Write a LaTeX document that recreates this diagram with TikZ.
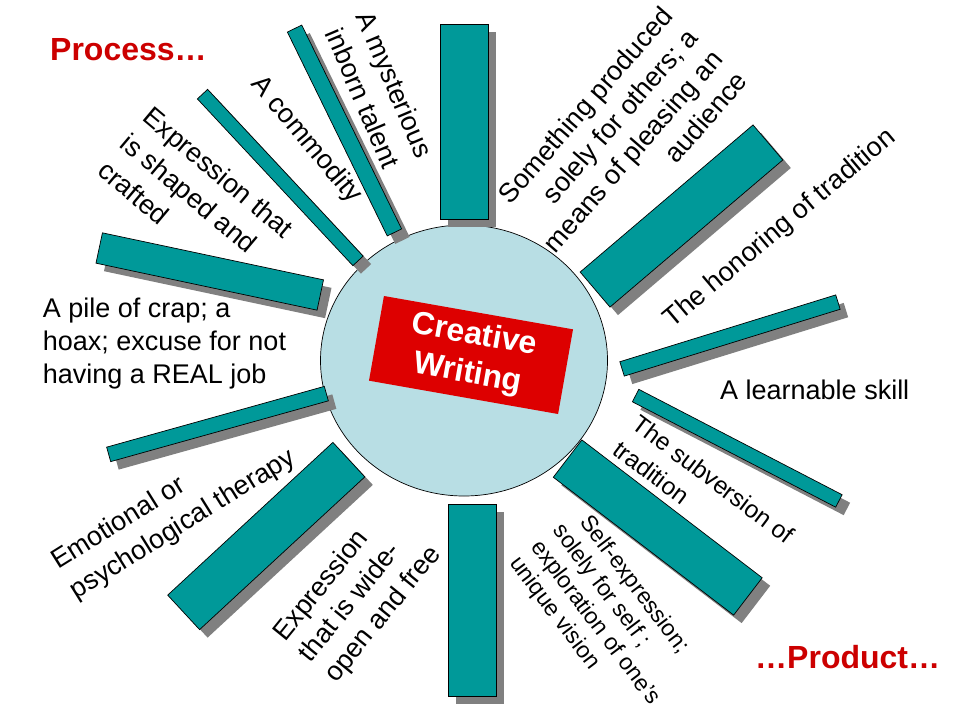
\documentclass[tikz,border=0pt]{standalone}
\usepackage{fontspec}
\setmainfont{Liberation Sans}
\usepackage{xcolor}
\usetikzlibrary{shapes.geometric}
\definecolor{barteal}{RGB}{0,153,153}
\definecolor{hubblue}{RGB}{184,222,228}
\definecolor{titlered}{RGB}{221,0,0}
\definecolor{headred}{RGB}{204,0,0}
\begin{document}
\begin{tikzpicture}[x=1pt,y=-1pt]
	\tikzstyle{bar}=[rectangle,draw=black,line width=0.7pt,fill=barteal,inner sep=0pt]
	\tikzstyle{shade}=[rectangle,fill=gray,inner sep=0pt]
	\tikzstyle{word}=[inner sep=0pt,font=\fontsize{27}{33}\selectfont]
	\tikzstyle{wide}=[inner sep=0pt,font=\fontsize{27}{35}\selectfont]
	\tikzstyle{head}=[inner sep=0pt,text=headred,font=\fontsize{32}{38}\selectfont\bfseries]
	\fill[white] (0,0) rectangle (960,720);
	\useasboundingbox (0,0) rectangle (960,720);
	\node[ellipse,draw=black,line width=0.7pt,fill=hubblue,minimum width=287pt,minimum height=271pt,inner sep=0pt](hub) at (464,360.5){};
	\foreach \n/\x/\y/\ang/\len/\thk in {1/464/121.5/90/195/48, 2/344.5/130.5/-63.9/227/16,
		3/280.25/177.5/-47/228/14, 4/209.75/271.5/-12/226/31, 5/217.5/424/15.6/226/15,
		6/266.25/536/42.75/225/47, 7/472/600/90/192/48, 8/657.75/527.5/-37.4/227/47,
		9/737.25/448.25/-27.4/229/14, 10/730/335.5/17.2/226/15, 11/681.5/216/40.4/227/46}
	{
		\node[shade,minimum width=\len pt,minimum height=\thk pt,rotate=\ang](b\n s) at (\x+8,\y+8){};
		\node[bar,minimum width=\len pt,minimum height=\thk pt,rotate=\ang](b\n) at (\x,\y){};
	}
	\node[fill=titlered,text=white,font=\fontsize{32}{39}\selectfont\bfseries,align=center,minimum width=192pt,minimum height=86pt,inner sep=0pt,rotate=-10](title) at (471,355){Creative\\Writing};
	\node[wide,rotate=-67,align=center](talent) at (379,91){A mysterious\\inborn talent};
	\node[word,rotate=-50](commodity) at (306,140){A commodity};
	\node[wide,rotate=-40,align=left](shaped) at (196,199){Expression that\\is shaped and\\crafted};
	\node[word,anchor=west,align=left](crap) at (42.7,344){A pile of crap; a\\hoax; excuse for not\\having a REAL job};
	\node[wide,rotate=32,align=left](therapy) at (174,510){Emotional or\\psychological therapy};
	\node[word,rotate=51,align=left](free) at (358,594){Expression\\that is wide-\\open and free};
	\node[inner sep=0pt,font=\fontsize{23}{27}\selectfont,rotate=-53,align=left](self) at (606,615){\hspace*{10pt}Self-expression;\\solely for self ;\\exploration of one’s\\unique vision};
	\node[inner sep=0pt,font=\fontsize{24.5}{32}\selectfont,rotate=-37,align=left](subvert) at (704,492){The subversion of\\tradition};
	\node[word,anchor=base west](skill) at (720,399){A learnable skill};
	\node[word,rotate=40](honor) at (780,229){The honoring of tradition};
	\node[word,rotate=49,align=right](audience) at (620,140){Something produced\\solely for others; a\\means of pleasing an\\audience};
	\node[head,anchor=base west](process) at (50,60){Process…};
	\node[head,anchor=base west](product) at (755,668){…Product…};
\end{tikzpicture}
\end{document}
